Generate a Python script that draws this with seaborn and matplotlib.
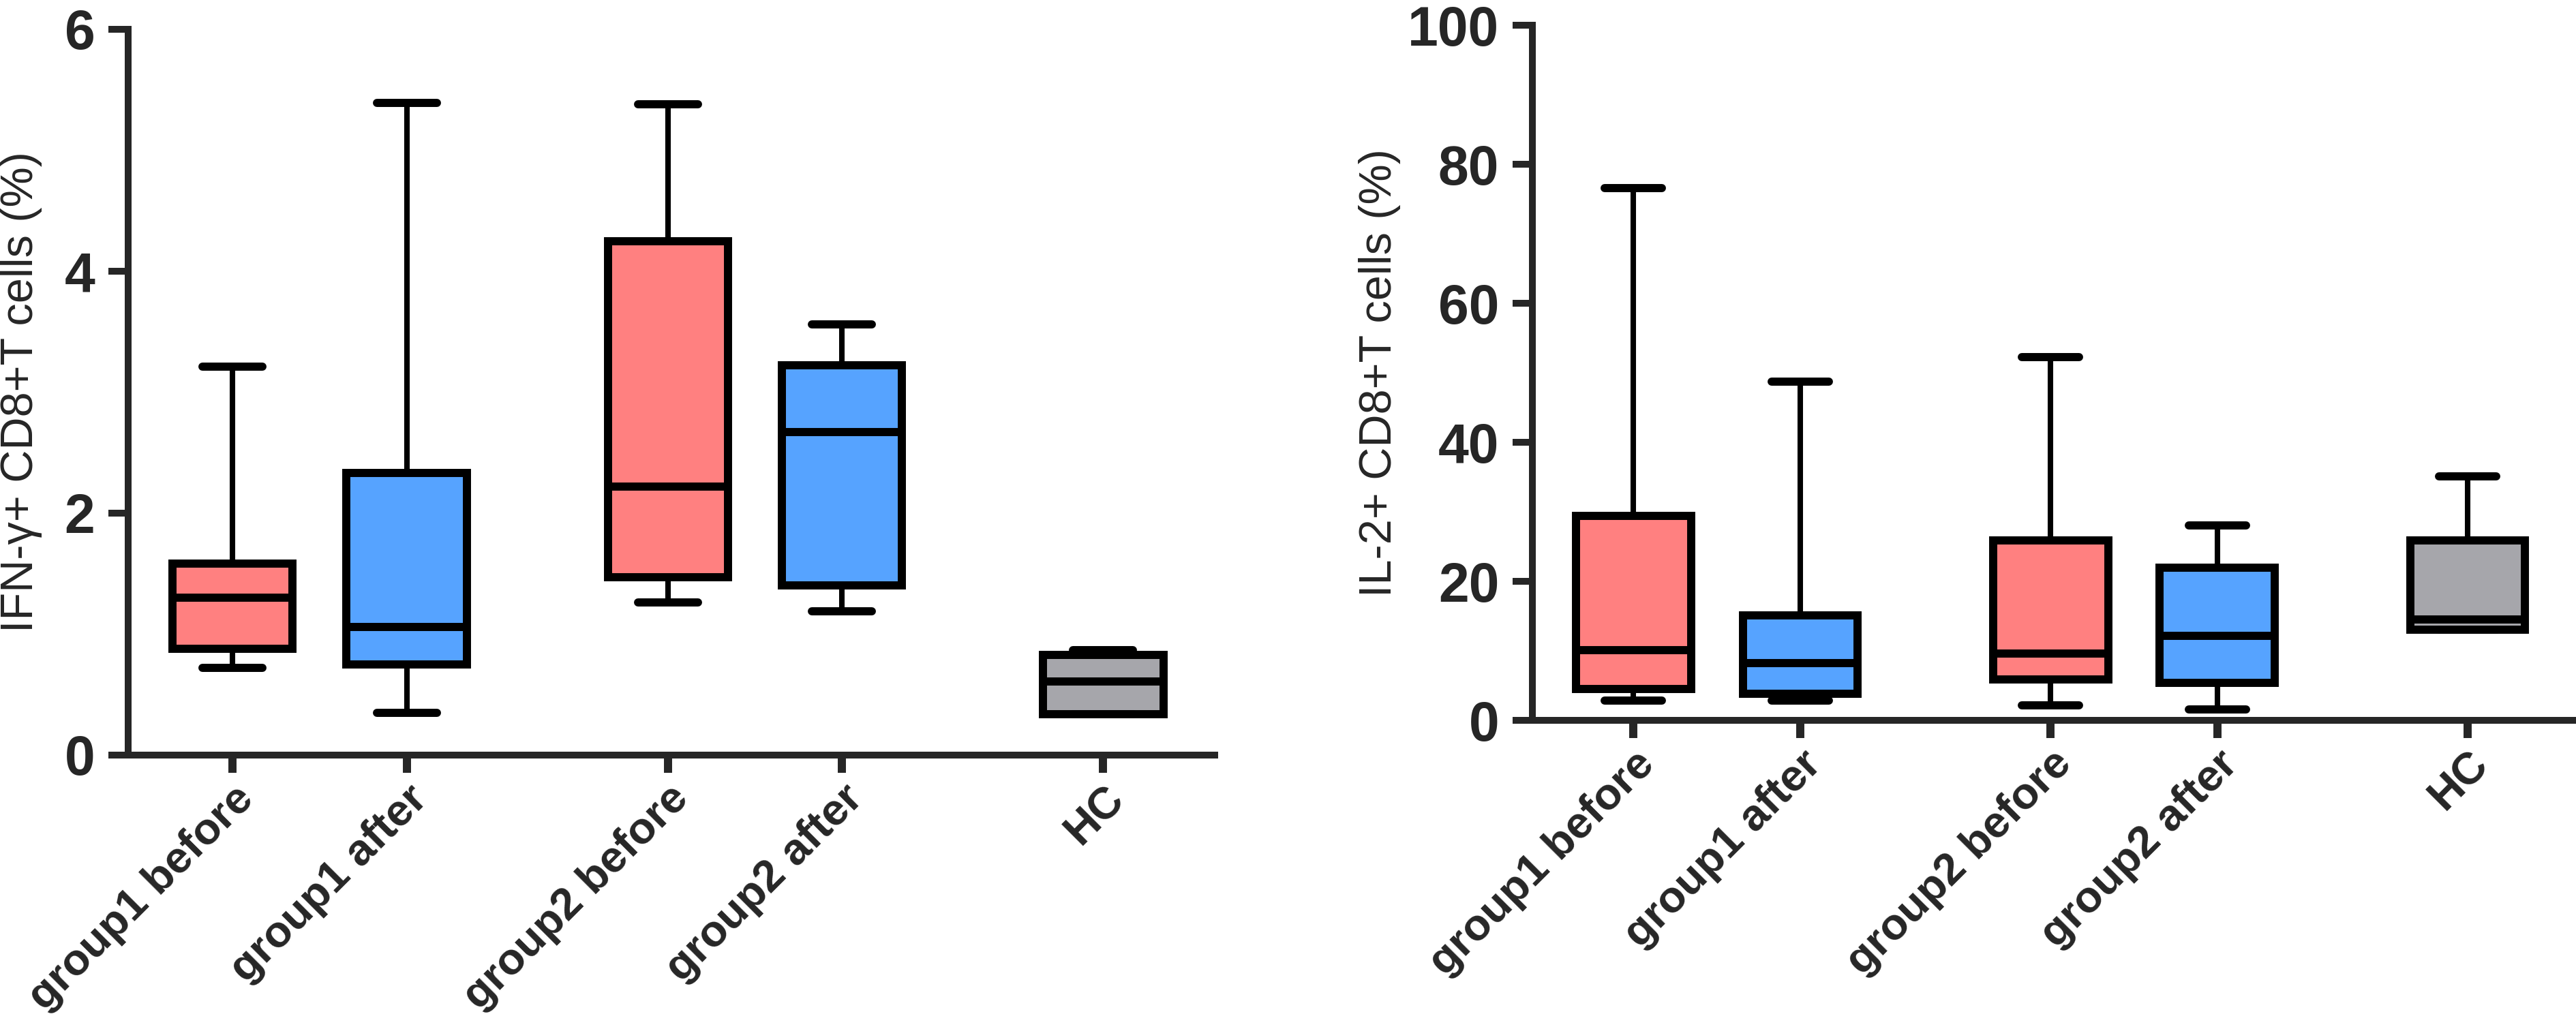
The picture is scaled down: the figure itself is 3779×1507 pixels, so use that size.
import numpy as np
import pandas as pd
import matplotlib
matplotlib.use("Agg")
import matplotlib.pyplot as plt
import seaborn as sns

# box statistics (whisker low, Q1, median, Q3, whisker high)
groups = ["group1 before", "group1 after", "group2 before", "group2 after", "HC"]

ifn_low = [0.72, 0.35, 1.26, 1.19, 0.34]
ifn_q1 = [0.88, 0.75, 1.47, 1.40, 0.34]
ifn_median = [1.30, 1.06, 2.22, 2.67, 0.61]
ifn_q3 = [1.58, 2.33, 4.25, 3.22, 0.83]
ifn_high = [3.21, 5.39, 5.38, 3.56, 0.87]

il2_low = [2.8, 2.8, 2.2, 1.6, 13.0]
il2_q1 = [4.5, 3.8, 5.9, 5.4, 13.0]
il2_median = [10.1, 8.2, 9.6, 12.2, 14.5]
il2_q3 = [29.4, 15.1, 25.9, 22.0, 25.9]
il2_high = [76.6, 48.7, 52.3, 28.0, 35.1]

ifn_ticks = [0, 2, 4, 6]
il2_ticks = [0, 20, 40, 60, 80, 100]

# layout: groups sit in pairs with a wider gap between them
positions = [0, 1, 2.5, 3.5, 5]
colors = {"group1 before": "#FF8080", "group1 after": "#56A3FF",
          "group2 before": "#FF8080", "group2 after": "#56A3FF",
          "HC": "#A6A6AB"}

sns.set_style("ticks")
plt.rcParams["font.family"] = ["Liberation Sans", "DejaVu Sans"]

DIGIT_FONT = ["Liberation Sans Narrow", "Liberation Sans", "DejaVu Sans"]


def make_frame(low, q1, med, q3, high):
    rows = []
    for i, g in enumerate(groups):
        for v in (low[i], q1[i], med[i], q3[i], high[i]):
            rows.append({"group": g, "pos": positions[i], "value": v})
    return pd.DataFrame(rows)


def draw_panel(ax, df, ticks, ylabel, xlim, label_x):
    sns.boxplot(
        data=df, x="pos", y="value", hue="group", palette=colors,
        native_scale=True, dodge=False, legend=False, ax=ax,
        whis=(0, 100), width=0.69, saturation=1,
        linecolor="black", linewidth=8.6,
        boxprops={"linewidth": 8.6},
        whiskerprops={"linewidth": 5.8},
        capprops={"linewidth": 8.6},
        medianprops={"linewidth": 8.6},
        showfliers=False,
    )
    ax.set_xlim(*xlim)
    ax.set_ylim(ticks[0], ticks[-1])
    ax.set_yticks(ticks)
    ax.set_yticklabels([str(t) for t in ticks], family=DIGIT_FONT,
                       fontweight="bold", fontsize=58)
    ax.set_xticks(positions)
    ax.set_xticklabels(groups, rotation=45, ha="right", va="top",
                       rotation_mode="anchor", fontweight="bold", fontsize=47)
    ax.tick_params(axis="y", length=21, width=7.2, pad=14)
    ax.tick_params(axis="x", length=19, width=8.6, pad=5)
    for side in ("top", "right"):
        ax.spines[side].set_visible(False)
    for side in ("left", "bottom"):
        ax.spines[side].set_linewidth(7.2)
    ax.set_xlabel("")
    ax.set_ylabel(ylabel, fontsize=48)
    ax.yaxis.set_label_coords(label_x, 0.5)


fig = plt.figure(figsize=(37.8, 15.07), dpi=100)
ax1 = fig.add_axes([0.0497, 0.2648, 0.4217, 0.7067])
ax2 = fig.add_axes([0.5947, 0.2986, 0.4053, 0.6768])

draw_panel(ax1, make_frame(ifn_low, ifn_q1, ifn_median, ifn_q3, ifn_high),
           ifn_ticks, "IFN-γ+ CD8+T cells (%)", (-0.6, 5.64), -0.079)
draw_panel(ax2, make_frame(il2_low, il2_q1, il2_median, il2_q3, il2_high),
           il2_ticks, "IL-2+ CD8+T cells (%)", (-0.606, 5.654), -0.126)

fig.savefig("out.png", dpi=100)
